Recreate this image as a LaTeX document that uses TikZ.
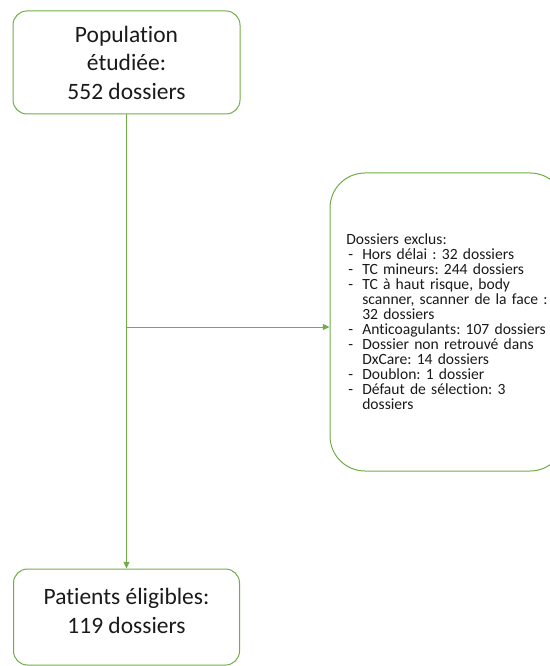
\documentclass[tikz,border=0pt]{standalone}
\usepackage{fontspec}
\setmainfont{Carlito}[Ligatures=NoCommon]
\usetikzlibrary{arrows.meta}
\definecolor{flowgreen}{HTML}{70AD47}
\definecolor{inktext}{HTML}{1A1A1A}
\frenchspacing
\tikzset{
  stage/.style={draw=flowgreen, line width=0.75pt, rounded corners=10.5pt,
    fill=white, inner sep=0pt},
  flow/.style={draw=flowgreen, line width=0.75pt,
    -{Triangle[length=5pt,width=4.5pt]}},
  bigtext/.style={font=\fontsize{17.6}{21.4}\selectfont, align=center,
    text=inktext, inner sep=0pt},
  listtext/.style={font=\fontsize{11.7}{11.3}\selectfont, text=inktext,
    text width=200pt, inner sep=0pt},
}
% one dash item of the exclusion list, with a hanging indent
\newcommand\exclitem[1]{\par\hangindent=12pt\hangafter=1\noindent
  \makebox[12pt][l]{\hspace{1.5pt}-}#1}
\begin{document}
\begin{tikzpicture}[x=0.75pt, y=-0.75pt]
  \useasboundingbox (0,0) rectangle (549,666);

  % boxes
  \node[stage, minimum width=170.25pt, minimum height=77.25pt, bigtext]
    (pop) at (126.5,62.5) {Population\\étudiée:\\552 dossiers};
  \node[stage, minimum width=169.5pt, minimum height=72pt]
    (elig) at (126.5,617) {};
  \node[bigtext] (eligtxt) at (126.5,611) {Patients éligibles:\\119 dossiers};
  \node[stage, rounded corners=26.25pt, minimum width=176.25pt,
    minimum height=223.5pt] (excl) at (447.5,322) {};

  % exclusion list
  \node[listtext, anchor=base west] (excltxt) at (346,244) {%
    \noindent Dossiers exclus:
    \exclitem{Hors délai : 32 dossiers}
    \exclitem{TC mineurs: 244 dossiers}
    \exclitem{TC à haut risque, body\newline scanner, scanner de la face :\newline 32 dossiers}
    \exclitem{Anticoagulants: 107 dossiers}
    \exclitem{Dossier non retrouvé dans\newline DxCare: 14 dossiers}
    \exclitem{Doublon: 1 dossier}
    \exclitem{Défaut de sélection: 3\newline dossiers}\par};

  % connectors
  \coordinate (split) at (126.5,327);
  \draw[flow] (pop.south) -- (elig.north);
  \draw[flow] (split) -- (split -| excl.west);
\end{tikzpicture}
\end{document}
